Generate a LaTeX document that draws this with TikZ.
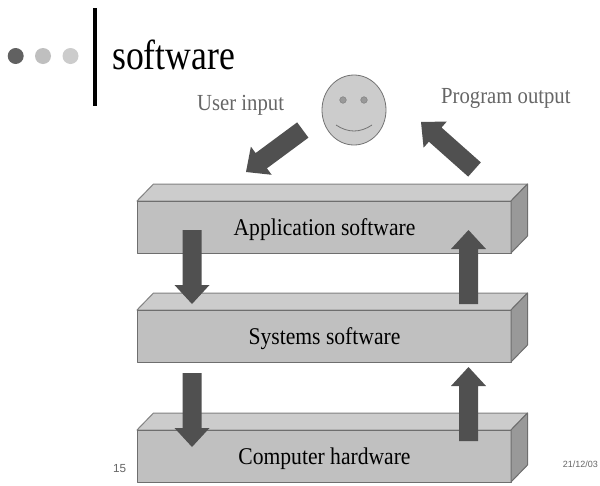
\documentclass[tikz,border=0pt]{standalone}
\usepackage{fontspec}
\setmainfont{Liberation Serif}
\setsansfont{Liberation Sans}
\newfontfamily\narrowserif[FakeStretch=0.9]{Liberation Serif}
\newfontfamily\titleserif[FakeStretch=0.85]{Liberation Serif}
\usetikzlibrary{calc}
\definecolor{boxfront}{HTML}{C0C0C0}
\definecolor{boxtop}{HTML}{CCCCCC}
\definecolor{boxside}{HTML}{999999}
\definecolor{boxline}{HTML}{6E6E6E}
\definecolor{arrowfill}{HTML}{505050}
\definecolor{labelgray}{HTML}{666666}
\tikzset{
  x=1pt,y=-1pt,
  boxedge/.style={draw=boxline,line width=1pt,line join=round},
  txt/.style={inner sep=0pt,anchor=base,font=\narrowserif\fontsize{24}{26}\selectfont,text=black},
  graytxt/.style={txt,font=\narrowserif\fontsize{23}{26}\selectfont,text=labelgray},
  small/.style={inner sep=0pt,anchor=base,font=\sffamily\fontsize{11.7}{13}\selectfont,text=labelgray},
  dotmark/.style={circle,inner sep=0pt,minimum size=16pt}
}
% \blockarrow{start}{tip}
\newcommand{\blockarrow}[2]{%
  \coordinate (hb) at ($(#2)!19pt!(#1)$);
  \fill[arrowfill]
    ($(#1)!9.5pt!90:(#2)$) -- ($(hb)!9.5pt!-90:(#1)$) -- ($(hb)!17.5pt!-90:(#1)$) -- (#2)
    -- ($(hb)!17.5pt!90:(#1)$) -- ($(hb)!9.5pt!90:(#1)$) -- ($(#1)!9.5pt!-90:(#2)$) -- cycle;
}
% \slab{front top y}
\newcommand{\slab}[1]{%
  \filldraw[boxedge,fill=boxfront] (137,#1) rectangle (511,#1+52);
  \filldraw[boxedge,draw=boxside!85!black,fill=boxtop] (137,#1) -- (153.5,#1-17) -- (527.5,#1-17) -- (511,#1) -- cycle;
  \filldraw[boxedge,fill=boxside] (511,#1) -- (527.5,#1-17) -- (527.5,#1+35) -- (511,#1+52) -- cycle;
  \draw[boxedge] (137,#1) -- (511,#1);
}
\begin{document}
\begin{tikzpicture}
\useasboundingbox (0,0) rectangle (600,485);
\fill[white] (0,0) rectangle (600,485);
% header
\node[dotmark,fill=black!62] (d1) at (15.7,56) {};
\node[dotmark,fill=black!25] (d2) at (43,56) {};
\node[dotmark,fill=black!20] (d3) at (70.5,56) {};
\fill[black] (93,8) rectangle (97,106);
\node[txt,anchor=base west,font=\titleserif\fontsize{42}{44}\selectfont] (title) at (112,69) {software};
% labels
\node[graytxt,anchor=base west] (ui) at (197,110) {User input};
\node[graytxt,anchor=base west] (po) at (441,103) {Program output};
% face
\filldraw[draw=black!55,fill=boxtop,line width=.8pt] (354,110) ellipse [x radius=32,y radius=35];
\filldraw[draw=black!50,fill=black!40,line width=.5pt] (343,100) circle [radius=3.3];
\filldraw[draw=black!50,fill=black!40,line width=.5pt] (364,100) circle [radius=3.3];
\draw[black!55,line width=.8pt] (336,125) .. controls (348,133) and (360,133) .. (372,125);
% slabs
\slab{201}
\slab{310}
\slab{430}
\node[txt,anchor=base] (tapp) at (324.5,235) {Application software};
\node[txt,anchor=base] (tsys) at (324.5,344) {Systems software};
\node[txt,anchor=base] (thw) at (324.5,464) {Computer hardware};
% arrows
\coordinate (a1s) at (192,230); \coordinate (a1t) at (192,304);
\coordinate (a2s) at (192,373); \coordinate (a2t) at (192,447);
\coordinate (a3s) at (468.5,304); \coordinate (a3t) at (468.5,230);
\coordinate (a4s) at (468.5,441); \coordinate (a4t) at (468.5,367);
\coordinate (a5s) at (302.8,130); \coordinate (a5t) at (246,172);
\coordinate (a6s) at (474.5,169.5); \coordinate (a6t) at (421,122);
\blockarrow{a1s}{a1t}
\blockarrow{a2s}{a2t}
\blockarrow{a3s}{a3t}
\blockarrow{a4s}{a4t}
\blockarrow{a5s}{a5t}
\blockarrow{a6s}{a6t}
% footer
\node[small,anchor=base west] (num) at (113,472) {15};
\node[small,anchor=base west,font=\sffamily\fontsize{9}{11}\selectfont] (date) at (562.7,467) {21/12/03};
\end{tikzpicture}
\end{document}
